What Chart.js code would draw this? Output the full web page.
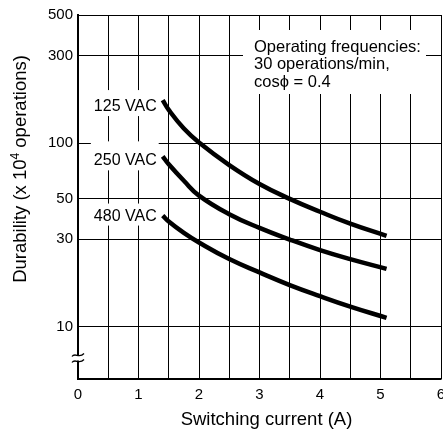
<!DOCTYPE html>
<html><head><meta charset="utf-8">
<script src="https://cdn.jsdelivr.net/npm/chart.js@4/dist/chart.umd.min.js"></script>
<style>
html,body{margin:0;padding:0;background:#fff;overflow:hidden;width:443px;height:432px}
#wrap{width:460px;height:432px}
</style></head>
<body><div id="wrap"><canvas id="c" width="460" height="432"></canvas></div>
<script>
// ---- data ----
const currents = [1.4, 1.5, 1.75, 2.0, 2.5, 3.0, 3.5, 4.0, 4.5, 5.1];
const durability125 = [172, 152, 120.4, 101, 76.1, 60.0, 49.8, 42.4, 36.5, 31.3];
const durability250 = [84.9, 76.8, 62.5, 51.9, 41.1, 34.6, 29.9, 26.2, 23.4, 20.7];
const durability480 = [40.4, 37.5, 32.5, 28.8, 23.4, 19.8, 16.9, 14.7, 12.9, 11.2];
const seriesLabels = ['125 VAC', '250 VAC', '480 VAC'];
const xGridValues = [0, 0.5, 1, 1.5, 2, 2.5, 3, 3.5, 4, 4.5, 5, 5.5, 6];
const yTickValues = [5.2, 10, 30, 50, 100, 300, 500];
const yTickLabels = ['', '10', '30', '50', '100', '300', '500'];
const xTitle = 'Switching current (A)';
const yTitleParts = ['Durability (x 10', '4', ' operations)'];
const noteLines = ['Operating frequencies:', '30 operations/min,', 'cosϕ = 0.4'];

const FONT = '"Liberation Sans", Arial, Helvetica, sans-serif';
const toPts = d => currents.map((x, i) => ({x, y: d[i]}));

const overlay = {
  id:'overlay',
  afterDatasetsDraw(chart){
    const ctx = chart.ctx, xs = chart.scales.x, ys = chart.scales.y;
    ctx.save();
    const series = [durability125, durability250, durability480];
    const dys = [11, 9, 5];
    const tops = [21, 24, 17];
    ctx.font = '16px ' + FONT;
    ctx.textAlign = 'right'; ctx.textBaseline = 'alphabetic';
    series.forEach((d, i) => {
      const px = xs.getPixelForValue(currents[0]) - 6;
      const py = ys.getPixelForValue(d[0]) + dys[i];
      const w = ctx.measureText(seriesLabels[i]).width;
      ctx.fillStyle = '#fff';
      ctx.fillRect(px - w - 3, py - tops[i], w + 5, tops[i] + 5);
      ctx.fillStyle = '#000';
      ctx.fillText(seriesLabels[i], px, py);
    });
    ctx.fillStyle = '#fff';
    ctx.fillRect(243, 30, 183, 64);
    ctx.fillStyle = '#000';
    ctx.textAlign = 'left';
    ctx.font = '16.5px ' + FONT;
    const bases = [51.5, 69, 86.5];
    noteLines.forEach((t, i) => ctx.fillText(t, 254, bases[i]));
    const bx = chart.chartArea.left;
    ctx.fillStyle = '#fff';
    ctx.fillRect(bx - 3, 355.5, 6, 5);
    ctx.strokeStyle = '#000'; ctx.lineWidth = 1.3;
    [355, 361].forEach(yy => {
      ctx.beginPath();
      ctx.moveTo(bx - 6, yy + 1.5);
      ctx.bezierCurveTo(bx - 3, yy - 3, bx + 1, yy + 4, bx + 6, yy - 1.5);
      ctx.stroke();
    });
    ctx.restore();
  },
  afterDraw(chart){
    const ctx = chart.ctx;
    ctx.save();
    ctx.fillStyle = '#000';
    ctx.font = '18.5px ' + FONT;
    ctx.textAlign = 'center'; ctx.textBaseline = 'alphabetic';
    ctx.fillText(xTitle, 266.5, 425);
    ctx.translate(26, 169);
    ctx.rotate(-Math.PI / 2);
    const big = '18.5px ' + FONT, small = '12px ' + FONT;
    ctx.font = big; const w0 = ctx.measureText(yTitleParts[0]).width;
    const w2 = ctx.measureText(yTitleParts[2]).width;
    ctx.font = small; const w1 = ctx.measureText(yTitleParts[1]).width;
    let x0 = -(w0 + w1 + w2) / 2;
    ctx.textAlign = 'left';
    ctx.font = big; ctx.fillText(yTitleParts[0], x0, 0);
    ctx.font = small; ctx.fillText(yTitleParts[1], x0 + w0, -7);
    ctx.font = big; ctx.fillText(yTitleParts[2], x0 + w0 + w1, 0);
    ctx.restore();
  }
};

new Chart(document.getElementById('c'), {
  type:'line',
  data:{datasets:[
    {label:seriesLabels[0], data:toPts(durability125)},
    {label:seriesLabels[1], data:toPts(durability250)},
    {label:seriesLabels[2], data:toPts(durability480)}
  ]},
  options:{
    responsive:false, animation:false, devicePixelRatio:1,
    elements:{
      line:{tension:0.45, borderColor:'#000', borderWidth:4.5, fill:false, borderCapStyle:'butt', capBezierPoints:false},
      point:{radius:0, hoverRadius:0}
    },
    layout:{padding:{top:15, right:19, left:0, bottom:0}},
    plugins:{legend:{display:false}, tooltip:{enabled:false}},
    scales:{
      x:{type:'linear', min:0, max:6,
        afterBuildTicks: s => { s.ticks = xGridValues.map(v => ({value:v})); },
        afterFit: s => { s.height = 53; },
        ticks:{autoSkip:false, maxRotation:0, padding:7, color:'#000',
          font:{family:FONT, size:15},
          callback: v => Number.isInteger(v) ? String(v) : ''},
        grid:{color:'#000', lineWidth:1, drawTicks:false},
        border:{color:'#000', width:1.5}},
      y:{type:'logarithmic', min:5.2, max:500,
        afterBuildTicks: s => { s.ticks = yTickValues.map(v => ({value:v})); },
        afterFit: s => { s.width = 78; },
        ticks:{autoSkip:false, padding:5, color:'#000',
          font:{family:FONT, size:15},
          callback: (v, i) => yTickLabels[i]},
        grid:{color:'#000', lineWidth:1, drawTicks:false},
        border:{color:'#000', width:2}}
    }
  },
  plugins:[overlay]
});
</script></body></html>
